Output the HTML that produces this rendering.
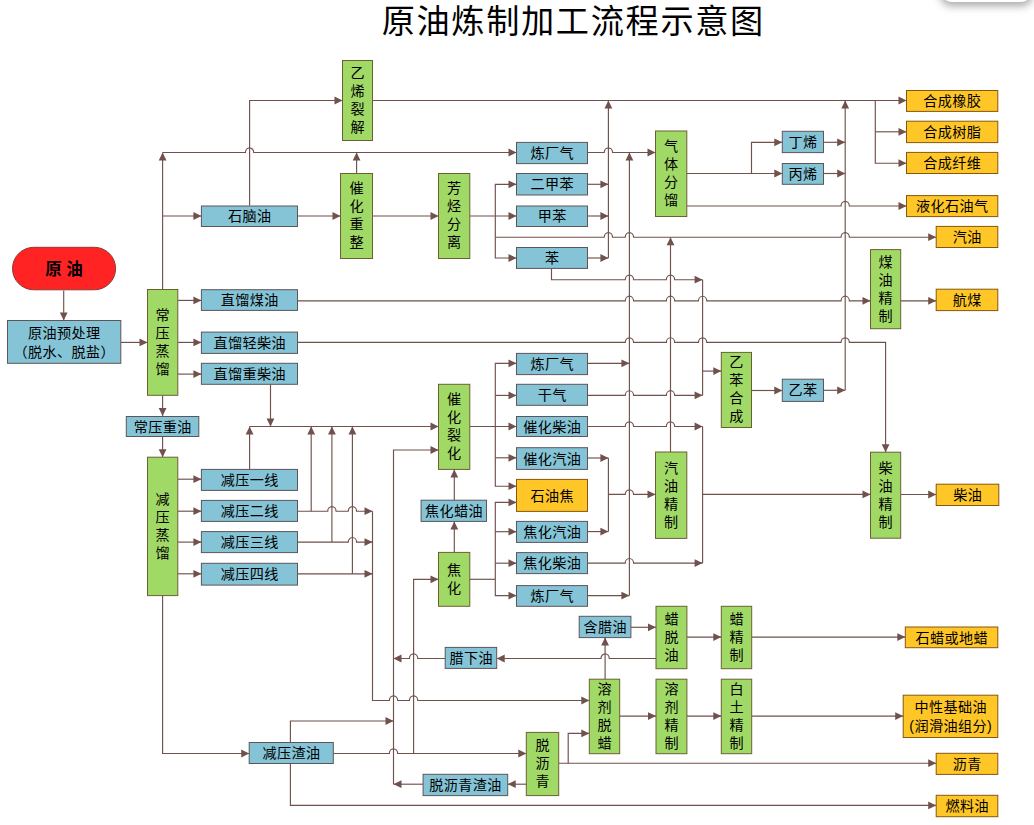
<!DOCTYPE html>
<html lang="zh-CN">
<head>
<meta charset="utf-8">
<title>原油炼制加工流程示意图</title>
<style>
html,body{margin:0;padding:0;background:#fff;}
body{width:1034px;height:825px;overflow:hidden;position:relative;font-family:"Liberation Sans", "Noto Sans CJK SC", sans-serif;}
svg{position:absolute;left:0;top:0;display:block;font-family:"Liberation Sans", "Noto Sans CJK SC", sans-serif;}
.tab{position:absolute;left:941px;top:-30px;width:91px;height:32px;border-radius:11px;background:#fff;box-shadow:0 3px 8px 1px rgba(0,0,0,.34);}
</style>
</head>
<body>
<svg width="1034" height="825" viewBox="0 0 1034 825">
<g fill="none" stroke="#70514B" stroke-width="1.15">
<path d="M63.7 290.5 V320.5"/>
<path d="M120.8 342.4 H147.5"/>
<path d="M162.6 289.5 V152.5"/>
<path d="M162.6 152.5 H245.45 A4.15 4.6 0 0 1 253.75 152.5 H516.5"/>
<path d="M162.6 216 H201.4"/>
<path d="M249.6 205.5 V100.5 H342.5"/>
<path d="M372.5 100.5 H906.5"/>
<path d="M875.3 100.5 V163.2 H906.5"/>
<path d="M875.3 131.8 H906.5"/>
<path d="M297.5 216 H340.5"/>
<path d="M356.6 173.5 V152.5"/>
<path d="M372.5 216 H438.5"/>
<path d="M469.8 216 H516.5"/>
<path d="M495.3 216 V184.3 H516.5"/>
<path d="M495.3 216 V258 H516.5"/>
<path d="M495.3 237.2 H604.25 A4.15 4.6 0 0 1 612.55 237.2 H625.25 A4.15 4.6 0 0 1 633.55 237.2 H841.05 A4.15 4.6 0 0 1 849.35 237.2 H936.2"/>
<path d="M587.5 152.5 H604.25 A4.15 4.6 0 0 1 612.55 152.5 H655.5"/>
<path d="M587.5 184.3 H608.4"/>
<path d="M587.5 216 H608.4"/>
<path d="M587.5 258 H608.4"/>
<path d="M608.4 258 V100.5"/>
<path d="M629.4 595.6 V152.5"/>
<path d="M686.8 173.5 H782.3"/>
<path d="M751.5 173.5 V142.3 H782.3"/>
<path d="M823.5 142.3 H845.2"/>
<path d="M823.5 173.5 H845.2"/>
<path d="M686.8 206 H841.05 A4.15 4.6 0 0 1 849.35 206 H906.5"/>
<path d="M845.2 390.3 V100.5"/>
<path d="M823.5 390.3 H845.2"/>
<path d="M751.5 390.5 H782.3"/>
<path d="M551.5 268.4 V279.7 H625.25 A4.15 4.6 0 0 1 633.55 279.7 H666.35 A4.15 4.6 0 0 1 674.65 279.7 H702.6"/>
<path d="M702.6 279.7 V395.3"/>
<path d="M702.6 371.1 H721.3"/>
<path d="M587.5 395.3 H625.25 A4.15 4.6 0 0 1 633.55 395.3 H666.35 A4.15 4.6 0 0 1 674.65 395.3 H702.6"/>
<path d="M587.5 363.3 H629.4"/>
<path d="M297.5 300.8 H625.25 A4.15 4.6 0 0 1 633.55 300.8 H666.35 A4.15 4.6 0 0 1 674.65 300.8 H698.45 A4.15 4.6 0 0 1 706.75 300.8 H841.05 A4.15 4.6 0 0 1 849.35 300.8 H870.5"/>
<path d="M900.7 300.8 H936.2"/>
<path d="M297.5 342.4 H625.25 A4.15 4.6 0 0 1 633.55 342.4 H666.35 A4.15 4.6 0 0 1 674.65 342.4 H698.45 A4.15 4.6 0 0 1 706.75 342.4 H841.05 A4.15 4.6 0 0 1 849.35 342.4 H885.6 V452.2"/>
<path d="M177.8 300.4 H201.4"/>
<path d="M177.8 342.4 H201.4"/>
<path d="M177.8 374.1 H201.4"/>
<path d="M270.5 384.3 V426.5"/>
<path d="M162.6 395.3 V416"/>
<path d="M162.6 436.5 V457.2"/>
<path d="M177.8 479.2 H201.4"/>
<path d="M177.8 511.2 H201.4"/>
<path d="M177.8 542.1 H201.4"/>
<path d="M177.8 573.8 H201.4"/>
<path d="M249.6 469.4 V426.5"/>
<path d="M249.6 426.5 H438.5"/>
<path d="M297.5 511.2 H327.75 A4.15 4.6 0 0 1 336.05 511.2 H348.25 A4.15 4.6 0 0 1 356.55 511.2 H372.5"/>
<path d="M311.2 511.2 V426.5"/>
<path d="M297.5 542.1 H348.25 A4.15 4.6 0 0 1 356.55 542.1 H372.5"/>
<path d="M331.9 542.1 V426.5"/>
<path d="M297.5 573.8 H372.5"/>
<path d="M352.4 573.8 V426.5"/>
<path d="M372.5 511.2 V700.5 H389.35 A4.15 4.6 0 0 1 397.65 700.5 H409.45 A4.15 4.6 0 0 1 417.75 700.5 H589.3"/>
<path d="M162.6 595.6 V753.5 H249.2"/>
<path d="M290.4 742.5 V721 H393.5"/>
<path d="M333.3 753.5 H389.35 A4.15 4.6 0 0 1 397.65 753.5 H526.3"/>
<path d="M413.6 753.5 V579.3 H438.5"/>
<path d="M290.4 763.5 V805.4 H936.2"/>
<path d="M393.5 784.2 V450 H438.5"/>
<path d="M423.1 784.2 H393.5"/>
<path d="M526.3 784.2 H507.7"/>
<path d="M445.2 658.5 H417.75 A4.15 4.6 0 0 0 409.45 658.5 H393.5"/>
<path d="M656 658.5 H609.25 A4.15 4.6 0 0 0 600.95 658.5 H496.7"/>
<path d="M605.1 679.2 V637.6"/>
<path d="M630.9 627.3 H656"/>
<path d="M686.9 637.1 H721.3"/>
<path d="M751.7 637.1 H905.3"/>
<path d="M619.7 716.1 H656"/>
<path d="M686.9 716.1 H721.3"/>
<path d="M751.7 716.1 H903.2"/>
<path d="M558.7 763.2 H936.2"/>
<path d="M568.2 763.2 V733.4 H589.3"/>
<path d="M469.8 426.5 H516.5"/>
<path d="M495.3 426.5 V363.3 H516.5"/>
<path d="M495.3 395.4 H516.5"/>
<path d="M495.3 426.5 V486.2 H516.5"/>
<path d="M495.3 457.8 H516.5"/>
<path d="M469.8 579.3 H495.3"/>
<path d="M495.3 579.3 V502.4 H516.5"/>
<path d="M495.3 531.7 H516.5"/>
<path d="M495.3 563.2 H516.5"/>
<path d="M495.3 579.3 V595.6 H516.5"/>
<path d="M454.3 552.4 V521.4"/>
<path d="M454.3 500.2 V469.4"/>
<path d="M587.5 426.5 H625.25 A4.15 4.6 0 0 1 633.55 426.5 H666.35 A4.15 4.6 0 0 1 674.65 426.5 H702.6"/>
<path d="M587.5 458 H608.4"/>
<path d="M587.5 531.6 H608.4"/>
<path d="M608.4 458 V531.6"/>
<path d="M608.4 494.4 H625.25 A4.15 4.6 0 0 1 633.55 494.4 H655.5"/>
<path d="M587.5 563.1 H625.25 A4.15 4.6 0 0 1 633.55 563.1 H702.6"/>
<path d="M702.6 426.5 V563.1"/>
<path d="M702.6 494.4 H870.5"/>
<path d="M587.5 595.6 H629.4"/>
<path d="M670.5 452 V237.2"/>
<path d="M900.7 494.5 H936.2"/>
</g>
<path fill="#70514B" d="M63.7 320.5 L59.8 312.5 L67.6 312.5Z M147.5 342.4 L139.5 338.5 L139.5 346.3Z M162.6 152.5 L158.7 160.5 L166.5 160.5Z M516.5 152.5 L508.5 148.6 L508.5 156.4Z M201.4 216 L193.4 212.1 L193.4 219.9Z M342.5 100.5 L334.5 96.6 L334.5 104.4Z M906.5 100.5 L898.5 96.6 L898.5 104.4Z M906.5 163.2 L898.5 159.3 L898.5 167.1Z M906.5 131.8 L898.5 127.9 L898.5 135.7Z M340.5 216 L332.5 212.1 L332.5 219.9Z M356.6 152.5 L352.7 160.5 L360.5 160.5Z M438.5 216 L430.5 212.1 L430.5 219.9Z M516.5 216 L508.5 212.1 L508.5 219.9Z M516.5 184.3 L508.5 180.4 L508.5 188.2Z M516.5 258 L508.5 254.1 L508.5 261.9Z M936.2 237.2 L928.2 233.3 L928.2 241.1Z M655.5 152.5 L647.5 148.6 L647.5 156.4Z M608.4 184.3 L600.4 180.4 L600.4 188.2Z M608.4 216 L600.4 212.1 L600.4 219.9Z M608.4 258 L600.4 254.1 L600.4 261.9Z M608.4 100.5 L604.5 108.5 L612.3 108.5Z M629.4 152.5 L625.5 160.5 L633.3 160.5Z M782.3 173.5 L774.3 169.6 L774.3 177.4Z M782.3 142.3 L774.3 138.4 L774.3 146.2Z M845.2 142.3 L837.2 138.4 L837.2 146.2Z M845.2 173.5 L837.2 169.6 L837.2 177.4Z M906.5 206 L898.5 202.1 L898.5 209.9Z M845.2 100.5 L841.3 108.5 L849.1 108.5Z M845.2 390.3 L837.2 386.4 L837.2 394.2Z M782.3 390.5 L774.3 386.6 L774.3 394.4Z M702.6 279.7 L694.6 275.8 L694.6 283.6Z M721.3 371.1 L713.3 367.2 L713.3 375Z M702.6 395.3 L694.6 391.4 L694.6 399.2Z M629.4 363.3 L621.4 359.4 L621.4 367.2Z M870.5 300.8 L862.5 296.9 L862.5 304.7Z M936.2 300.8 L928.2 296.9 L928.2 304.7Z M885.6 452.2 L881.7 444.2 L889.5 444.2Z M201.4 300.4 L193.4 296.5 L193.4 304.3Z M201.4 342.4 L193.4 338.5 L193.4 346.3Z M201.4 374.1 L193.4 370.2 L193.4 378Z M270.5 426.5 L266.6 418.5 L274.4 418.5Z M162.6 416 L158.7 408 L166.5 408Z M162.6 457.2 L158.7 449.2 L166.5 449.2Z M201.4 479.2 L193.4 475.3 L193.4 483.1Z M201.4 511.2 L193.4 507.3 L193.4 515.1Z M201.4 542.1 L193.4 538.2 L193.4 546Z M201.4 573.8 L193.4 569.9 L193.4 577.7Z M249.6 426.5 L245.7 434.5 L253.5 434.5Z M438.5 426.5 L430.5 422.6 L430.5 430.4Z M372.5 511.2 L364.5 507.3 L364.5 515.1Z M311.2 426.5 L307.3 434.5 L315.1 434.5Z M372.5 542.1 L364.5 538.2 L364.5 546Z M331.9 426.5 L328 434.5 L335.8 434.5Z M372.5 573.8 L364.5 569.9 L364.5 577.7Z M352.4 426.5 L348.5 434.5 L356.3 434.5Z M589.3 700.5 L581.3 696.6 L581.3 704.4Z M249.2 753.5 L241.2 749.6 L241.2 757.4Z M393.5 721 L385.5 717.1 L385.5 724.9Z M526.3 753.5 L518.3 749.6 L518.3 757.4Z M438.5 579.3 L430.5 575.4 L430.5 583.2Z M936.2 805.4 L928.2 801.5 L928.2 809.3Z M438.5 450 L430.5 446.1 L430.5 453.9Z M393.5 784.2 L401.5 780.3 L401.5 788.1Z M507.7 784.2 L515.7 780.3 L515.7 788.1Z M393.5 658.5 L401.5 654.6 L401.5 662.4Z M496.7 658.5 L504.7 654.6 L504.7 662.4Z M605.1 637.6 L601.2 645.6 L609 645.6Z M656 627.3 L648 623.4 L648 631.2Z M721.3 637.1 L713.3 633.2 L713.3 641Z M905.3 637.1 L897.3 633.2 L897.3 641Z M656 716.1 L648 712.2 L648 720Z M721.3 716.1 L713.3 712.2 L713.3 720Z M903.2 716.1 L895.2 712.2 L895.2 720Z M936.2 763.2 L928.2 759.3 L928.2 767.1Z M589.3 733.4 L581.3 729.5 L581.3 737.3Z M516.5 426.5 L508.5 422.6 L508.5 430.4Z M516.5 363.3 L508.5 359.4 L508.5 367.2Z M516.5 395.4 L508.5 391.5 L508.5 399.3Z M516.5 486.2 L508.5 482.3 L508.5 490.1Z M516.5 457.8 L508.5 453.9 L508.5 461.7Z M516.5 502.4 L508.5 498.5 L508.5 506.3Z M516.5 531.7 L508.5 527.8 L508.5 535.6Z M516.5 563.2 L508.5 559.3 L508.5 567.1Z M516.5 595.6 L508.5 591.7 L508.5 599.5Z M454.3 521.4 L450.4 529.4 L458.2 529.4Z M454.3 469.4 L450.4 477.4 L458.2 477.4Z M702.6 426.5 L694.6 422.6 L694.6 430.4Z M608.4 458 L600.4 454.1 L600.4 461.9Z M608.4 531.6 L600.4 527.7 L600.4 535.5Z M655.5 494.4 L647.5 490.5 L647.5 498.3Z M702.6 563.1 L694.6 559.2 L694.6 567Z M870.5 494.4 L862.5 490.5 L862.5 498.3Z M629.4 595.6 L621.4 591.7 L621.4 599.5Z M670.5 237.2 L666.6 245.2 L674.4 245.2Z M936.2 494.5 L928.2 490.6 L928.2 498.4Z"/>
<g fill="#A1D967" stroke="#6E5F33" stroke-width="1">
<rect x="342.5" y="60.5" width="30" height="80"/>
<rect x="340.5" y="173.5" width="32" height="85"/>
<rect x="438.5" y="173.5" width="31.3" height="85"/>
<rect x="655.5" y="131" width="31.3" height="85.5"/>
<rect x="147.5" y="289.5" width="30.3" height="105.8"/>
<rect x="147.5" y="457.2" width="30.3" height="138.4"/>
<rect x="438.5" y="384.3" width="31.3" height="85.1"/>
<rect x="438.5" y="552.4" width="31.3" height="53.9"/>
<rect x="655.5" y="452" width="31.3" height="86.4"/>
<rect x="721.3" y="352.4" width="30.2" height="75.1"/>
<rect x="870.5" y="249.6" width="30.2" height="79.1"/>
<rect x="870.5" y="452.2" width="30.2" height="86"/>
<rect x="656" y="606.3" width="30.9" height="62.4"/>
<rect x="721.3" y="606.3" width="30.4" height="62.4"/>
<rect x="589.3" y="679.2" width="30.4" height="74.5"/>
<rect x="656" y="679.2" width="30.9" height="74.5"/>
<rect x="721.3" y="679.2" width="30.4" height="74.5"/>
<rect x="526.3" y="732.4" width="32.4" height="63.2"/>
</g>
<g fill="#84C4D6" stroke="#5E5559" stroke-width="1">
<rect x="7.5" y="320.5" width="113.3" height="42.8"/>
<rect x="201.4" y="206" width="96.1" height="20.5"/>
<rect x="201.4" y="289.7" width="96.1" height="20.7"/>
<rect x="201.4" y="332.1" width="96.1" height="21.3"/>
<rect x="201.4" y="363.3" width="96.1" height="21"/>
<rect x="126.3" y="416.5" width="72.5" height="20"/>
<rect x="201.4" y="469.4" width="96.1" height="21"/>
<rect x="201.4" y="500.4" width="96.1" height="21"/>
<rect x="201.4" y="531.6" width="96.1" height="21"/>
<rect x="201.4" y="563.3" width="96.1" height="21.8"/>
<rect x="249.2" y="742.5" width="84.1" height="21"/>
<rect x="516.5" y="142.4" width="71" height="21.2"/>
<rect x="516.5" y="173.5" width="71" height="21.5"/>
<rect x="516.5" y="206" width="71" height="20.5"/>
<rect x="516.5" y="247.5" width="71" height="20.9"/>
<rect x="516.5" y="353.4" width="71" height="21.2"/>
<rect x="516.5" y="384.3" width="71" height="21"/>
<rect x="516.5" y="416.5" width="71" height="20"/>
<rect x="516.5" y="447.7" width="71" height="21.7"/>
<rect x="516.5" y="521.4" width="71" height="21"/>
<rect x="516.5" y="552.6" width="71" height="21"/>
<rect x="516.5" y="585.6" width="71" height="20.7"/>
<rect x="421.1" y="500.2" width="65.4" height="21.2"/>
<rect x="445.2" y="647.4" width="51.5" height="21"/>
<rect x="423.1" y="774.3" width="84.6" height="21.3"/>
<rect x="579.2" y="616.3" width="51.7" height="21.3"/>
<rect x="782.3" y="131.3" width="41.2" height="21.3"/>
<rect x="782.3" y="163.5" width="41.2" height="20.8"/>
<rect x="782.3" y="379.2" width="41.2" height="22.2"/>
</g>
<g fill="#FFC627" stroke="#87570F" stroke-width="1">
<rect x="516.5" y="479.4" width="71" height="32"/>
<rect x="906.5" y="90.5" width="91.3" height="20.9"/>
<rect x="906.5" y="121.2" width="91.3" height="21.4"/>
<rect x="906.5" y="152.4" width="91.3" height="21.1"/>
<rect x="906.5" y="195.6" width="91.3" height="21"/>
<rect x="936.2" y="226.4" width="61.6" height="21.1"/>
<rect x="936.2" y="289.2" width="61.6" height="21.4"/>
<rect x="936.2" y="484.2" width="62.6" height="21.3"/>
<rect x="905.3" y="627" width="92.5" height="20.7"/>
<rect x="903.2" y="695.2" width="94.6" height="42.3"/>
<rect x="936.2" y="753.3" width="61.6" height="21.1"/>
<rect x="936.2" y="795.3" width="61.6" height="21.4"/>
</g>
<rect x="12.5" y="247.3" width="103.1" height="42.5" rx="21.25" fill="#FF2323" stroke="#8E3A33" stroke-width="1"/>
<g font-size="14.1px" letter-spacing="0.4px" text-anchor="middle" fill="#000">
<text x="357.7" y="77.95">乙</text>
<text x="357.7" y="95.95">烯</text>
<text x="357.7" y="113.95">裂</text>
<text x="357.7" y="131.95">解</text>
<text x="356.7" y="193.45">催</text>
<text x="356.7" y="211.45">化</text>
<text x="356.7" y="229.45">重</text>
<text x="356.7" y="247.45">整</text>
<text x="454.35" y="193.45">芳</text>
<text x="454.35" y="211.45">烃</text>
<text x="454.35" y="229.45">分</text>
<text x="454.35" y="247.45">离</text>
<text x="671.35" y="151.2">气</text>
<text x="671.35" y="169.2">体</text>
<text x="671.35" y="187.2">分</text>
<text x="671.35" y="205.2">馏</text>
<text x="162.85" y="319.85">常</text>
<text x="162.85" y="337.85">压</text>
<text x="162.85" y="355.85">蒸</text>
<text x="162.85" y="373.85">馏</text>
<text x="162.85" y="503.85">减</text>
<text x="162.85" y="521.85">压</text>
<text x="162.85" y="539.85">蒸</text>
<text x="162.85" y="557.85">馏</text>
<text x="454.35" y="404.3">催</text>
<text x="454.35" y="422.3">化</text>
<text x="454.35" y="440.3">裂</text>
<text x="454.35" y="458.3">化</text>
<text x="454.35" y="574.8">焦</text>
<text x="454.35" y="592.8">化</text>
<text x="671.35" y="472.65">汽</text>
<text x="671.35" y="490.65">油</text>
<text x="671.35" y="508.65">精</text>
<text x="671.35" y="526.65">制</text>
<text x="736.6" y="367.4">乙</text>
<text x="736.6" y="385.4">苯</text>
<text x="736.6" y="403.4">合</text>
<text x="736.6" y="421.4">成</text>
<text x="885.8" y="266.6">煤</text>
<text x="885.8" y="284.6">油</text>
<text x="885.8" y="302.6">精</text>
<text x="885.8" y="320.6">制</text>
<text x="885.8" y="472.65">柴</text>
<text x="885.8" y="490.65">油</text>
<text x="885.8" y="508.65">精</text>
<text x="885.8" y="526.65">制</text>
<text x="671.65" y="623.95">蜡</text>
<text x="671.65" y="641.95">脱</text>
<text x="671.65" y="659.95">油</text>
<text x="736.7" y="623.95">蜡</text>
<text x="736.7" y="641.95">精</text>
<text x="736.7" y="659.95">制</text>
<text x="604.7" y="693.9">溶</text>
<text x="604.7" y="711.9">剂</text>
<text x="604.7" y="729.9">脱</text>
<text x="604.7" y="747.9">蜡</text>
<text x="671.65" y="693.9">溶</text>
<text x="671.65" y="711.9">剂</text>
<text x="671.65" y="729.9">精</text>
<text x="671.65" y="747.9">制</text>
<text x="736.7" y="693.9">白</text>
<text x="736.7" y="711.9">土</text>
<text x="736.7" y="729.9">精</text>
<text x="736.7" y="747.9">制</text>
<text x="542.7" y="750.45">脱</text>
<text x="542.7" y="768.45">沥</text>
<text x="542.7" y="786.45">青</text>
<text x="64.35" y="337.55">原油预处理</text>
<text x="64.35" y="356.55">（脱水、脱盐）</text>
<text x="249.65" y="221.4">石脑油</text>
<text x="249.65" y="305.2">直馏煤油</text>
<text x="249.65" y="347.9">直馏轻柴油</text>
<text x="249.65" y="378.95">直馏重柴油</text>
<text x="162.75" y="431.65">常压重油</text>
<text x="249.65" y="485.05">减压一线</text>
<text x="249.65" y="516.05">减压二线</text>
<text x="249.65" y="547.25">减压三线</text>
<text x="249.65" y="579.35">减压四线</text>
<text x="291.45" y="758.15">减压渣油</text>
<text x="552.2" y="158.15">炼厂气</text>
<text x="552.2" y="189.4">二甲苯</text>
<text x="552.2" y="221.4">甲苯</text>
<text x="552.2" y="263.1">苯</text>
<text x="552.2" y="369.15">炼厂气</text>
<text x="552.2" y="399.95">干气</text>
<text x="552.2" y="431.65">催化柴油</text>
<text x="552.2" y="463.7">催化汽油</text>
<text x="552.2" y="537.05">焦化汽油</text>
<text x="552.2" y="568.25">焦化柴油</text>
<text x="552.2" y="601.1">炼厂气</text>
<text x="454" y="515.95">焦化蜡油</text>
<text x="471.15" y="663.05">腊下油</text>
<text x="465.6" y="790.1">脱沥青渣油</text>
<text x="605.25" y="632.1">含腊油</text>
<text x="803.1" y="147.1">丁烯</text>
<text x="803.1" y="179.05">丙烯</text>
<text x="803.1" y="395.45">乙苯</text>
<text x="552.2" y="500.55">石油焦</text>
<text x="952.35" y="106.1">合成橡胶</text>
<text x="952.35" y="137.05">合成树脂</text>
<text x="952.35" y="168.1">合成纤维</text>
<text x="952.35" y="211.25">液化石油气</text>
<text x="967.2" y="242.1">汽油</text>
<text x="967.2" y="305.05">航煤</text>
<text x="967.7" y="500">柴油</text>
<text x="951.75" y="642.5">石蜡或地蜡</text>
<text x="950.7" y="712">中性基础油</text>
<text x="950.7" y="731">(润滑油组分)</text>
<text x="967.2" y="769">沥青</text>
<text x="967.2" y="811.15">燃料油</text>
</g>
<text x="64" y="275" font-size="16.5px" font-weight="bold" text-anchor="middle">原 油</text>
<text x="573.3" y="32.6" font-size="33.2px" letter-spacing="1.65px" text-anchor="middle">原油炼制加工流程示意图</text>
</svg>
<div class="tab"></div>
</body>
</html>
